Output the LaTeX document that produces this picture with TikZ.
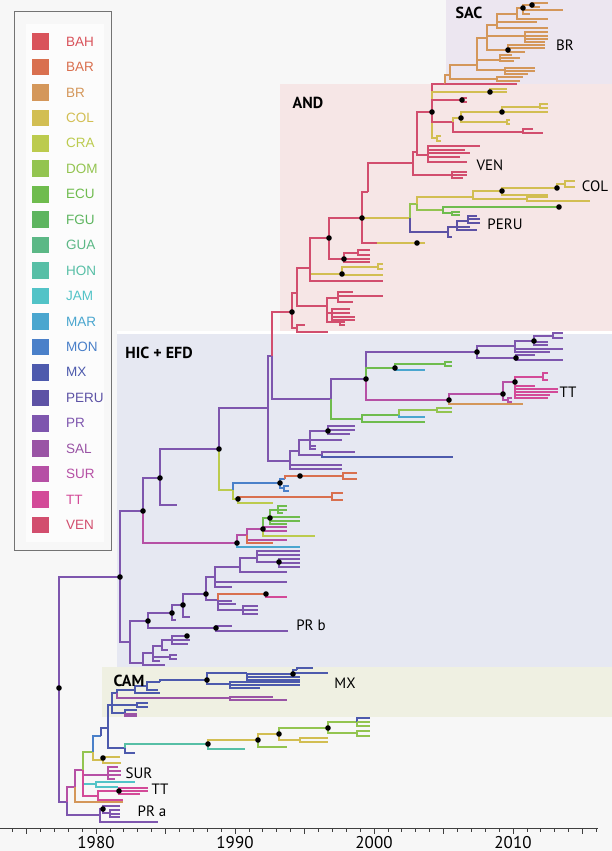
\documentclass[tikz,border=0pt]{standalone}
\usepackage{fontspec}
\setmainfont{PT Sans}
\newfontfamily\legfont{Liberation Sans}
\definecolor{cBAH}{HTML}{D9535B}
\definecolor{cBAR}{HTML}{D9704F}
\definecolor{cBR}{HTML}{D4975A}
\definecolor{cCOL}{HTML}{D2BE52}
\definecolor{cCRA}{HTML}{BCCB4E}
\definecolor{cDOM}{HTML}{93C450}
\definecolor{cECU}{HTML}{6FBC4E}
\definecolor{cFGU}{HTML}{5DB55F}
\definecolor{cGUA}{HTML}{5CB886}
\definecolor{cHON}{HTML}{57BFA6}
\definecolor{cJAM}{HTML}{52C3C7}
\definecolor{cMAR}{HTML}{4AA6CF}
\definecolor{cMON}{HTML}{4A80C9}
\definecolor{cMX}{HTML}{4D5AAD}
\definecolor{cPERU}{HTML}{5D52A5}
\definecolor{cPR}{HTML}{7E56AE}
\definecolor{cSAL}{HTML}{9A54A5}
\definecolor{cSUR}{HTML}{B650A5}
\definecolor{cTT}{HTML}{D34A98}
\definecolor{cVEN}{HTML}{D24E6E}
\definecolor{bgpage}{HTML}{F7F7F7}
\definecolor{bgSAC}{HTML}{ECE6F0}
\definecolor{bgAND}{HTML}{F6E6E6}
\definecolor{bgHIC}{HTML}{E6E8F2}
\definecolor{bgCAM}{HTML}{EFF0E2}
\newcommand\tbr[5]{\draw[br,#1] (#2,#3) |- (#4,#5);}
\newcommand\tfk[4]{\foreach \yy/\xx in {#4}{\draw[br,#1] (#2,#3) |- (\xx,\yy);}}
\newcommand\tdot[2]{\fill[black] (#1,#2) circle (2.8pt);}
\tikzset{
  br/.style={line width=1.5pt},
  clade/.style={font=\bfseries\fontsize{16}{18}\selectfont, inner sep=0},
  tip/.style={font=\fontsize{15}{17}\selectfont, inner sep=0},
  legtxt/.style={anchor=west, inner sep=0, font=\legfont\fontsize{13.5}{15}\selectfont},
  axlab/.style={font=\fontsize{17}{18}\selectfont, inner sep=0, anchor=base},
  axisline/.style={line width=0.8pt, black!75}
}
\begin{document}
\begin{tikzpicture}[x=1pt,y=-1pt]
\useasboundingbox (0,0) rectangle (612,851);
% backgrounds
\fill[bgpage] (0,0) rectangle (612,851);
\fill[bgSAC] (446,0) rectangle (612,84);
\fill[bgAND] (280,84) rectangle (612,331);
\fill[white] (117,331) rectangle (612,334);
\fill[bgHIC] (117,334) rectangle (612,667);
\fill[bgCAM] (102,667) rectangle (612,717);
% legend
\draw[black!55, line width=0.8pt, fill=bgpage] (14,11) rectangle (111,550);
\fill[white!60!bgpage] (26,24) rectangle (104,542);
\foreach \nm [count=\i from 0] in {BAH,BAR,BR,COL,CRA,DOM,ECU,FGU,GUA,HON,JAM,MAR,MON,MX,PERU,PR,SAL,SUR,TT,VEN}{
  \pgfmathsetmacro\yc{41.5+25.45*\i}
  \fill[c\nm] (32,{\yc-8.3}) rectangle (48.6,{\yc+8.3});
  \node[legtxt,text=c\nm] (lg\nm) at (66,\yc) {\nm};
}
% ===== root =====
\tbr{cPR}{59}{688}{120}{577}
\tbr{cPR}{59}{688}{67}{802}
% ===== HIC + EFD =====
\tbr{cPR}{120}{577}{143}{511}
\tbr{cPR}{120}{577}{130}{642}
\tbr{cPR}{143}{511}{160}{478}
\tbr{cSUR}{143}{511}{237}{543}
\tbr{cPR}{160}{478}{219}{449}
\tbr{cPR}{160}{478}{177}{505}
\tbr{cPR}{219}{449}{268}{408}
\tbr{cCRA}{219}{449}{233}{490}
\tbr{cMON}{233}{490}{280}{483}
\tbr{cCRA}{233}{490}{238}{499}
\tbr{cBAR}{238}{499}{332}{497}
\tfk{cBAR}{332}{497}{493/343,500/343}
\tbr{cCRA}{238}{499}{273}{503}
\tbr{cMON}{280}{483}{285}{479}
\tbr{cBAR}{285}{479}{300}{476}
\tbr{cBAR}{300}{476}{343}{476}
\tfk{cBAR}{343}{476}{473/357,479/357}
\tbr{cMON}{280}{483}{284}{488}
\tfk{cMON}{284}{488}{486/289,491/289}
% upper HIC
\tbr{cPR}{268}{408}{272}{356}
\tbr{cPR}{268}{408}{290}{461}
\tbr{cVEN}{272}{356}{292}{312}
\tbr{cPR}{272}{356}{331}{399}
\tbr{cPR}{331}{399}{366}{379}
\tbr{cECU}{331}{399}{362}{419}
\tbr{cECU}{362}{419}{399}{415}
\tbr{cECU}{362}{419}{425}{422}
\tbr{cDOM}{399}{415}{437}{410}
\tfk{cDOM}{437}{410}{408/452,412/452}
\tbr{cMAR}{399}{415}{425}{417}
\tbr{cPR}{366}{379}{477}{352}
\tbr{cECU}{366}{379}{395}{368}
\tbr{cSUR}{366}{379}{449}{400}
\tbr{cECU}{395}{368}{445}{364}
\tfk{cECU}{445}{364}{362/452,366/452}
\tbr{cMAR}{395}{368}{425}{370}
\tbr{cPR}{477}{352}{515}{346}
\tbr{cPR}{477}{352}{516}{358}
\tbr{cPR}{515}{346}{534}{341}
\tbr{cPR}{534}{341}{553}{336}
\tfk{cPR}{553}{336}{333/563,338/563}
\tfk{cPR}{534}{341}{342/548,345/548}
\tfk{cPR}{515}{346}{349/563,352/550}
\tfk{cPR}{516}{358}{355/535,360/563}
\tbr{cSUR}{449}{400}{503}{394}
\tbr{cBR}{449}{400}{523}{404}
\tbr{cSUR}{503}{394}{515}{382}
\tbr{cSUR}{503}{394}{508}{400}
\tfk{cSUR}{508}{400}{398/512,402/512}
\tbr{cTT}{515}{382}{543}{377}
\tfk{cTT}{543}{377}{373/548,380/548}
\tfk{cTT}{515}{382}{386/535,389/558,392/558,395/550,398/548}
% purple clade
\tfk{cPR}{290}{461}{465/342,469/342}
\tbr{cPR}{290}{461}{299}{451}
\tbr{cPR}{299}{451}{310}{440}
\tbr{cPR}{299}{451}{322}{455}
\tfk{cPR}{322}{455}{452/355}
\tfk{cMX}{322}{455}{457/453}
\tfk{cPR}{310}{440}{440/342,446/316,449/316}
\tbr{cPR}{310}{440}{328}{431}
\tfk{cPR}{328}{431}{426/355,430/355,434/350}
% PR b
\tbr{cPR}{130}{642}{148}{621}
\tbr{cPR}{130}{642}{143}{663}
\tbr{cPR}{148}{621}{172}{613}
\tbr{cPR}{148}{621}{216}{628}
\tfk{cPR}{216}{628}{626/232,631/288}
\tbr{cPR}{172}{613}{183}{605}
\tbr{cPR}{172}{613}{176}{620}
\tbr{cPR}{183}{605}{206}{594}
\tbr{cPR}{183}{605}{190}{617}
\tbr{cPR}{206}{594}{215}{577}
\tbr{cPR}{206}{594}{218}{600}
\tbr{cPR}{215}{577}{240}{567}
\tfk{cPR}{215}{577}{582/287,587/232}
\tbr{cPR}{240}{567}{257}{558}
\tfk{cPR}{240}{567}{572/287}
\tfk{cPR}{257}{558}{551/300,555/300}
\tbr{cPR}{257}{558}{279}{562}
\tfk{cPR}{279}{562}{559/300,563/300,567/300}
\tbr{cBAR}{218}{600}{266}{594}
\tbr{cTT}{266}{594}{287}{597}
\tfk{cPR}{218}{600}{601/232,604/236}
\tbr{cPR}{218}{600}{243}{610}
\tfk{cPR}{243}{610}{606/258,610/258,614/258}
\tbr{cPR}{143}{663}{153}{653}
\tbr{cPR}{143}{663}{165}{665}
\tbr{cPR}{153}{653}{162}{646}
\tbr{cPR}{153}{653}{170}{657}
\tbr{cPR}{153}{653}{160}{661}
\tbr{cPR}{162}{646}{172}{640}
\tbr{cPR}{162}{646}{168}{650}
\tfk{cPR}{172}{640}{636/188,640/190,644/188}
\tfk{cPR}{170}{657}{655/177,659/177}
% pink clade
\tbr{cSUR}{237}{543}{247}{535}
\tbr{cMAR}{237}{543}{300}{547}
\tbr{cSUR}{247}{535}{263}{529}
\tbr{cSUR}{247}{535}{287}{540}
\tbr{cBAR}{247}{535}{273}{543}
\tbr{cECU}{263}{529}{270}{518}
\tfk{cSUR}{263}{529}{527/287,531/287}
\tbr{cCRA}{263}{529}{315}{536}
\tbr{cECU}{270}{518}{278}{510}
\tfk{cECU}{278}{510}{506/287,510/287,513/283}
\tfk{cECU}{270}{518}{517/300,521/300,524/287}
% ===== AND =====
\tbr{cVEN}{292}{312}{297}{293}
\tbr{cVEN}{292}{312}{297}{328}
\tfk{cVEN}{297}{328}{325/305,332/328}
\tbr{cVEN}{297}{293}{310}{268}
\tbr{cVEN}{297}{293}{327}{306}
\tbr{cVEN}{327}{306}{338}{298}
\tbr{cVEN}{327}{306}{332}{313}
\tbr{cVEN}{327}{306}{340}{322}
\tfk{cVEN}{338}{298}{292/353,296/383,302/353}
\tfk{cVEN}{332}{313}{309/350,313/350,317/355,320/355}
\tfk{cVEN}{340}{322}{322/345,325/345}
\tbr{cVEN}{310}{268}{329}{238}
\tbr{cCOL}{310}{268}{342}{274}
\tbr{cVEN}{310}{268}{383}{281}
\tbr{cCOL}{342}{274}{378}{267}
\tfk{cCOL}{378}{267}{264/383,269/383}
\tfk{cCOL}{342}{274}{275/383}
\tbr{cVEN}{329}{238}{362}{218}
\tbr{cVEN}{329}{238}{344}{259}
\tbr{cVEN}{344}{259}{358}{253}
\tfk{cVEN}{358}{253}{250/370,255/370}
\tfk{cVEN}{344}{259}{259/370,262/370}
\tbr{cVEN}{362}{218}{368}{192}
\tbr{cVEN}{368}{192}{413}{163}
\tbr{cCOL}{362}{218}{410}{218}
\tbr{cVEN}{362}{218}{377}{243}
\tbr{cCOL}{377}{243}{425}{243}
\tbr{cDOM}{410}{218}{417}{204}
\tbr{cPERU}{410}{218}{448}{232}
\tbr{cCOL}{417}{204}{473}{197}
\tbr{cDOM}{417}{204}{443}{210}
\tbr{cCOL}{473}{197}{502}{191}
\tbr{cCOL}{502}{191}{557}{188}
\tbr{cCOL}{557}{188}{565}{184}
\tfk{cCOL}{565}{184}{181/575,187/575}
\tfk{cCOL}{502}{191}{195/548}
\tbr{cCOL}{473}{197}{527}{199}
\tfk{cCOL}{527}{199}{197/548,201/590}
\tbr{cECU}{443}{210}{559}{207}
\tbr{cECU}{443}{210}{452}{213}
\tfk{cECU}{452}{213}{212/460,215/460}
\tbr{cPERU}{448}{232}{457}{227}
\tbr{cPERU}{448}{232}{452}{237}
\tbr{cPERU}{457}{227}{468}{221}
\tfk{cPERU}{468}{221}{216/477,219/480,223/480}
\tfk{cPERU}{457}{227}{227/470,230/477}
\tbr{cVEN}{413}{163}{417}{152}
\tbr{cVEN}{413}{163}{452}{175}
\tfk{cVEN}{452}{175}{172/467,175/467,178/463}
\tbr{cVEN}{417}{152}{432}{112}
\tbr{cVEN}{417}{152}{428}{155}
\tfk{cVEN}{428}{155}{146/480,150/465,153/470,157/460,162/467}
\tbr{cCOL}{432}{112}{437}{138}
\tfk{cCOL}{437}{138}{136/441,141/441}
\tbr{cVEN}{432}{112}{445}{84}
\tbr{cBR}{445}{84}{450}{75}
\tfk{cVEN}{445}{84}{84/517}
\tbr{cCOL}{432}{112}{490}{92}
\tfk{cCOL}{490}{92}{89/507,92/507}
\tbr{cVEN}{432}{112}{462}{100}
\tfk{cVEN}{462}{100}{98/467,102/467}
\tbr{cVEN}{432}{112}{453}{122}
\tbr{cCOL}{453}{122}{461}{118}
\tbr{cCOL}{461}{118}{502}{112}
\tfk{cCOL}{502}{112}{112/548}
\tbr{cCOL}{502}{112}{540}{107}
\tfk{cCOL}{540}{107}{104/548,108/548}
\tbr{cCOL}{461}{118}{507}{122}
\tfk{cCOL}{507}{122}{120/510,124/510}
\tbr{cVEN}{453}{122}{523}{132}
\tfk{cVEN}{523}{132}{129/533,133/543}
% ===== SAC =====
\tbr{cBR}{450}{75}{477}{65}
\tbr{cBR}{450}{75}{497}{79}
\tfk{cBR}{497}{79}{77/523,81/520}
\tbr{cBR}{477}{65}{487}{38}
\tbr{cBR}{477}{65}{500}{60}
\tfk{cBR}{500}{60}{55/512,58/520,61/514}
\tbr{cBR}{477}{65}{505}{70}
\tfk{cBR}{505}{70}{68/535,71/535,74/528}
\tbr{cBR}{487}{38}{497}{25}
\tbr{cBR}{487}{38}{525}{36}
\tfk{cBR}{525}{36}{32/548,36/548,39/548,42/545}
\tbr{cBR}{487}{38}{508}{50}
\tfk{cBR}{508}{50}{45/545,48/545,52/525}
\tbr{cBR}{497}{25}{517}{14}
\tfk{cBR}{497}{25}{28/548,22/537}
\tbr{cBR}{517}{14}{523}{8}
\tfk{cBR}{517}{14}{19/548}
\tbr{cBR}{523}{8}{532}{5}
\tfk{cBR}{532}{5}{3/548,7/540}
\tfk{cBR}{523}{8}{10/563,14/530}
% ===== lower clades =====
\tbr{cSUR}{67}{802}{75}{787}
\tbr{cPR}{67}{802}{100}{815}
\tbr{cSUR}{75}{787}{83}{770}
\tbr{cBR}{75}{787}{123}{802}
\tbr{cDOM}{83}{770}{93}{752}
\tbr{cSUR}{83}{770}{108}{775}
\tfk{cSUR}{108}{775}{767/118,771/121,775/121,779/115}
\tbr{cJAM}{83}{770}{96}{784}
\tfk{cJAM}{96}{784}{782/135,787/118}
\tbr{cTT}{83}{770}{98}{796}
\tbr{cTT}{98}{796}{119}{791}
\tfk{cTT}{119}{791}{788/148,791/148,794/140}
\tfk{cTT}{98}{796}{800/123}
\tbr{cMON}{93}{752}{101}{736}
\tbr{cCOL}{93}{752}{103}{760}
\tfk{cCOL}{103}{760}{757/120,763/121}
\tbr{cMX}{101}{736}{108}{728}
\tbr{cMX}{108}{728}{112}{705}
\tbr{cMX}{108}{728}{125}{748}
% CAM
\tbr{cMX}{112}{705}{117}{693}
\tbr{cMX}{112}{705}{137}{705}
\tfk{cMX}{137}{705}{703/148,707/148}
\tbr{cMX}{112}{705}{125}{713}
\tfk{cMX}{125}{713}{710/137}
\tfk{cSAL}{125}{713}{714/137,716/137}
\tbr{cMX}{117}{693}{135}{690}
\tbr{cSAL}{117}{693}{230}{698}
\tfk{cSAL}{230}{698}{697/273,700/287}
\tbr{cMX}{135}{690}{147}{686}
\tbr{cMX}{135}{690}{160}{693}
\tbr{cMX}{147}{686}{160}{682}
\tbr{cMX}{147}{686}{158}{690}
\tbr{cMX}{160}{682}{207}{680}
\tbr{cMX}{207}{680}{247}{673}
\tbr{cMX}{207}{680}{230}{684}
\tfk{cMX}{230}{684}{682/300,685/300,688/260}
\tbr{cMX}{247}{673}{293}{674}
\tfk{cMX}{247}{673}{677/300,680/300}
\tbr{cMX}{293}{674}{297}{670}
\tfk{cMX}{297}{670}{668/313}
\tfk{cMX}{293}{674}{673/328}
% cyan clade
\tbr{cHON}{125}{748}{208}{744}
\tbr{cMX}{125}{748}{135}{753}
\tbr{cCOL}{208}{744}{258}{740}
\tbr{cHON}{208}{744}{245}{749}
\tbr{cCOL}{258}{740}{279}{734}
\tbr{cDOM}{258}{740}{287}{747}
\tbr{cDOM}{279}{734}{328}{728}
\tbr{cCOL}{279}{734}{300}{740}
\tfk{cCOL}{300}{740}{738/328,742/328}
\tbr{cDOM}{328}{728}{357}{722}
\tfk{cMX}{357}{722}{718/370}
\tfk{cDOM}{357}{722}{722/370,726/370}
\tbr{cDOM}{328}{728}{357}{733}
\tfk{cDOM}{357}{733}{731/370,736/370}
% PR a
\tbr{cPR}{100}{815}{103}{809}
\tbr{cPR}{100}{815}{158}{822}
\tfk{cPR}{103}{809}{806/120}
\tbr{cPR}{103}{809}{110}{813}
\tfk{cPR}{110}{813}{810/120,814/120,817/120}
% ===== dots =====
\foreach \px/\py in {59/688,120/577,143/511,160/478,219/449,238/499,300/476,280/483,
  366/379,395/368,477/352,534/341,516/358,449/400,503/394,515/382,328/431,
  148/621,216/628,172/613,183/605,206/594,279/562,266/594,187/636,
  237/543,263/529,270/518,
  292/312,342/274,329/238,344/259,362/218,417/243,502/191,557/188,559/207,
  432/112,490/92,462/100,461/118,502/112,508/50,523/8,532/5,
  119/791,103/758,207/680,293/674,208/744,258/740,279/734,328/728,103/809}
  {\tdot{\px}{\py}}
% ===== labels =====
\node[clade] (lSAC) at (469,13) {SAC};
\node[clade] (lAND) at (308,103) {AND};
\node[clade] (lHIC) at (159,353) {HIC + EFD};
\node[clade] (lCAM) at (129,681) {CAM};
\node[tip] (tBR) at (565,45) {BR};
\node[tip] (tVEN) at (490,165) {VEN};
\node[tip] (tCOL) at (595,186) {COL};
\node[tip] (tPERU) at (505,224) {PERU};
\node[tip] (tTT1) at (568,392) {TT};
\node[tip] (tPRb) at (311,625) {PR b};
\node[tip] (tMX) at (345,683) {MX};
\node[tip] (tSUR) at (139,773) {SUR};
\node[tip] (tTT2) at (160,789) {TT};
\node[tip] (tPRa) at (152,811) {PR a};
% ===== axis =====
\draw[axisline] (0,828) -- (598,828);
\foreach \yr in {1974,...,2016}{
  \draw[axisline] ({96+13.9*(\yr-1980)},828) -- ++(0,3.5);
}
\foreach \yr in {1975,1980,...,2015}{
  \draw[axisline] ({96+13.9*(\yr-1980)},828) -- ++(0,6);
}
\foreach \yr in {1980,1990,2000,2010}{
  \node[axlab] (ax\yr) at ({96+13.9*(\yr-1980)},848) {\yr};
}
\end{tikzpicture}
\end{document}
